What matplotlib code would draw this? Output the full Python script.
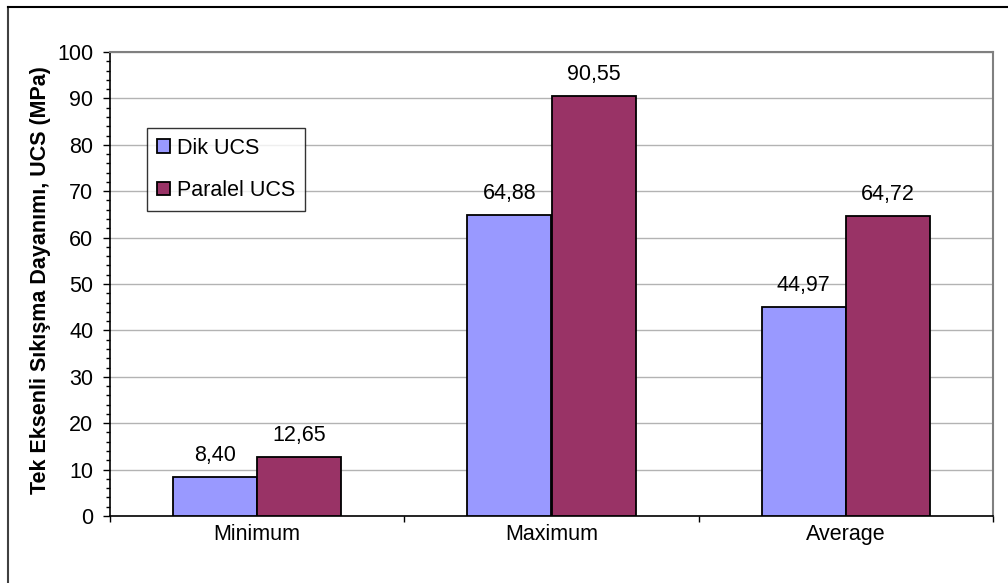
import matplotlib
matplotlib.use('Agg')
import matplotlib.pyplot as plt
from matplotlib.lines import Line2D
from matplotlib.ticker import MultipleLocator
import numpy as np

plt.rcParams['font.family'] = ['Liberation Sans', 'DejaVu Sans']

categories = ['Minimum', 'Maximum', 'Average']
dik_ucs = [8.40, 64.88, 44.97]
paralel_ucs = [12.65, 90.55, 64.72]
series_names = ['Dik UCS', 'Paralel UCS']
bar_colors = ['#9999FF', '#993366']
y_title = 'Tek Eksenli Sıkışma Dayanımı, UCS (MPa)'


def fmt(v):
    # comma as decimal separator
    return f'{v:.2f}'.replace('.', ',')


def main():
    W, H = 1008, 583
    fig = plt.figure(figsize=(W / 100, H / 100), dpi=100)
    ax = fig.add_axes([110 / W, 1 - 516 / H, 883 / W, 464 / H])

    x = np.arange(len(categories))
    w = 0.2864
    b1 = ax.bar(x - w / 2, dik_ucs, w, color=bar_colors[0], edgecolor='black',
                linewidth=1.3, label=series_names[0], zorder=3)
    b2 = ax.bar(x + w / 2, paralel_ucs, w, color=bar_colors[1], edgecolor='black',
                linewidth=1.3, label=series_names[1], zorder=3)

    for bars, vals in [(b1, dik_ucs), (b2, paralel_ucs)]:
        for rect, v in zip(bars, vals):
            ax.annotate(fmt(v), (rect.get_x() + rect.get_width() / 2, v),
                        xytext=(0, 8), textcoords='offset points',
                        ha='center', va='bottom', fontsize=15.5)

    ax.set_xlim(-0.5, 2.5)
    ax.set_ylim(0, 100)
    ax.yaxis.set_major_locator(MultipleLocator(10))
    ax.yaxis.set_minor_locator(MultipleLocator(2))
    ax.grid(axis='y', color='#b3b3b3', linewidth=1.0, zorder=0)
    ax.set_axisbelow(True)

    ax.set_xticks(x)
    ax.set_xticklabels(categories, fontsize=15.5)
    ax.set_xticks([-0.5, 0.5, 1.5, 2.5], minor=True)
    ax.tick_params(axis='x', which='major', length=0, pad=6)
    ax.tick_params(axis='x', which='minor', length=4, width=1, direction='out', color='black')
    ax.tick_params(axis='y', which='major', length=5, width=1, labelsize=15.5, pad=7)
    ax.tick_params(axis='y', which='minor', length=3, width=1)

    for side in ['top', 'right']:
        ax.spines[side].set_color('#808080')
        ax.spines[side].set_linewidth(1.5)
    for side in ['left', 'bottom']:
        ax.spines[side].set_color('black')
        ax.spines[side].set_linewidth(1.2)

    fig.text(41 / W, 1 - 280 / H, y_title, rotation=90, fontsize=15.5,
             fontweight='bold', ha='center', va='center')

    leg = ax.legend(loc='upper left', bbox_to_anchor=(37 / 883, 388 / 464),
                    fontsize=15.5, frameon=True, fancybox=False, borderpad=0.45,
                    handlelength=0.6, handleheight=0.6, handletextpad=0.35,
                    labelspacing=1.0, borderaxespad=0)
    leg.get_frame().set_edgecolor('black')
    leg.get_frame().set_linewidth(1.0)
    for h in leg.legend_handles:
        h.set_linewidth(1.3)

    # outer chart border (left and top edges fall inside the canvas)
    fig.add_artist(Line2D([8 / W, 8 / W], [0, 1 - 7 / H],
                          transform=fig.transFigure, color='#404040', linewidth=1.5))
    fig.add_artist(Line2D([8 / W, 1], [1 - 7 / H, 1 - 7 / H],
                          transform=fig.transFigure, color='black', linewidth=1.5))

    fig.savefig('out.png', dpi=100)
    plt.close(fig)


if __name__ == '__main__':
    main()
